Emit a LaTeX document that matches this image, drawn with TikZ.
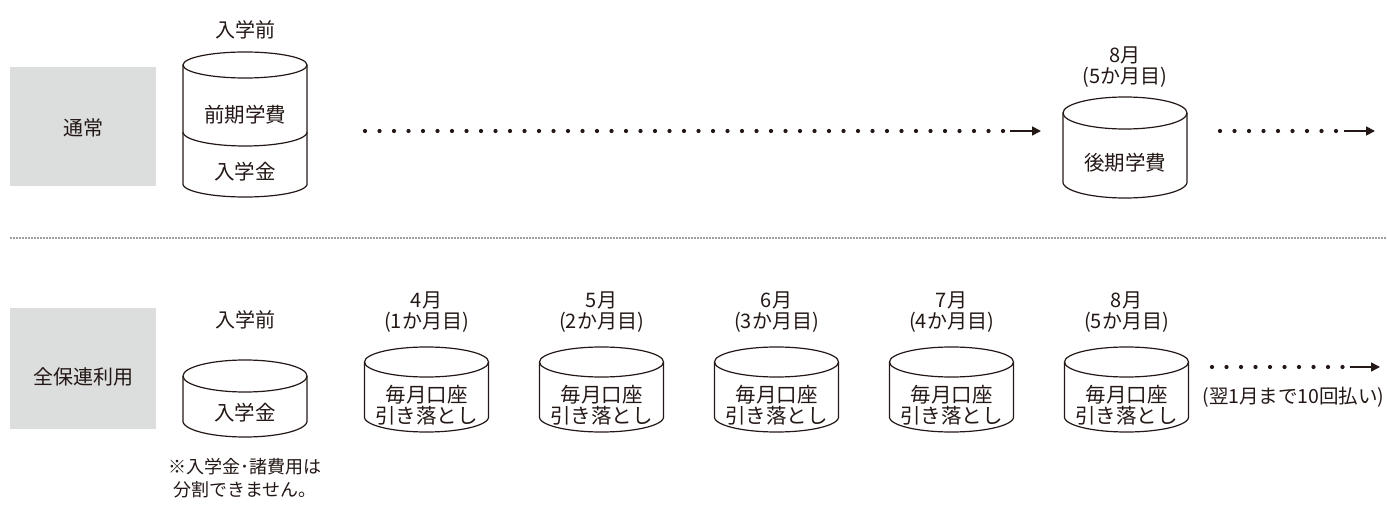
\documentclass[tikz,border=0pt]{standalone}
\usepackage{fontspec}
\setmainfont{Noto Sans CJK JP}
\usetikzlibrary{arrows.meta}
\definecolor{ink}{HTML}{231815}
\definecolor{boxgray}{HTML}{DCDDDD}
\definecolor{sepgray}{HTML}{9FA0A0}
\newcommand\mycyl[5]{% cx, top, bottom, rx, ry
  \draw[cylline] (#1,#2+#5) ellipse [x radius=#4, y radius=#5];
  \draw[cylline] (#1-#4,#2+#5) -- (#1-#4,#3-#5)
    -- plot[domain=180:360,samples=72,variable=\t] ({#1+#4*cos(\t)},{#3-#5-#5*sin(\t)})
    -- (#1+#4,#2+#5);
}
\begin{document}
\begin{tikzpicture}[x=1pt,y=-1pt,
  every node/.style={text=ink, font=\fontsize{20}{21}\selectfont, inner sep=0pt, align=center},
  cyltext/.style={font=\fontsize{20.5}{20.5}\selectfont},
  cylline/.style={draw=ink, line width=1.2pt, line join=round},
  graybox/.style={fill=boxgray, draw=none},
  dotline/.style={draw=ink, line width=4.2pt, line cap=round, dash pattern=on 0pt off 14.5pt},
  arr/.style={draw=ink, line width=1.7pt, -{Triangle[length=9pt,width=9pt]}},
  sep/.style={draw=sepgray, line width=1.6pt, dash pattern=on 1.6pt off 1.4pt}]
\useasboundingbox (0,0) rectangle (1387,505);

% row labels
\fill[graybox] (10,67) rectangle (156,186);
\node (lblA) at (83,128) {通常};
\fill[graybox] (10,308) rectangle (156,429);
\node (lblB) at (83,377) {全保連利用};

% separator
\coordinate (sepL) at (10,238);
\coordinate (sepR) at (1387,238);
\draw[sep] (sepL) -- (sepR);

% ---------- top row ----------
\node (hA) at (245,30) {入学前};
\mycyl{245}{52}{197}{62}{13}
\draw[cylline] plot[domain=180:360,samples=72,variable=\t] ({245+62*cos(\t)},{132-14*sin(\t)});
\node[cyltext] (zenki) at (245,115) {前期学費};
\node[cyltext] (nyu1) at (245,172) {入学金};

\node (hB) at (1125,67) {8月\\(5か月目)};
\mycyl{1125}{97}{198}{62}{16}
\node[cyltext] (kouki) at (1125,163) {後期学費};

\coordinate (d1s) at (365,131);
\coordinate (d1e) at (1004,131);
\coordinate (a1s) at (1010,131);
\coordinate (a1e) at (1041,131);
\draw[dotline] (d1s) -- (d1e);
\draw[arr] (a1s) -- (a1e);

\coordinate (d2s) at (1220,131);
\coordinate (d2e) at (1338,131);
\coordinate (a2s) at (1344,131);
\coordinate (a2e) at (1375,131);
\draw[dotline] (d2s) -- (d2e);
\draw[arr] (a2s) -- (a2e);

% ---------- bottom row ----------
\node (hC) at (245,320) {入学前};
\mycyl{245}{360}{437}{62}{16}
\node[cyltext] (nyu2) at (245,413) {入学金};
\node[font=\fontsize{18}{23}\selectfont] (note) at (245,478) {※入学金･諸費用は\\分割できません。};

\foreach \cx/\m/\k [count=\i] in {426.5/4/1, 601.5/5/2, 776.5/6/3, 951.5/7/4, 1126.5/8/5}{
  \node (m\i) at (\cx,312.5) {\m 月\\(\k か月目)};
  \mycyl{\cx}{347}{432}{62}{15}
  \node[cyltext] (p\i) at (\cx,405) {毎月口座\\引き落とし};
}

\coordinate (d3s) at (1212,367);
\coordinate (d3e) at (1343,367);
\coordinate (a3s) at (1350,367);
\coordinate (a3e) at (1380,367);
\draw[dotline] (d3s) -- (d3e);
\draw[arr] (a3s) -- (a3e);
\node[font=\fontsize{19.5}{21}\selectfont] (harai) at (1293.5,397) {(翌1月まで10回払い)};

\end{tikzpicture}
\end{document}
